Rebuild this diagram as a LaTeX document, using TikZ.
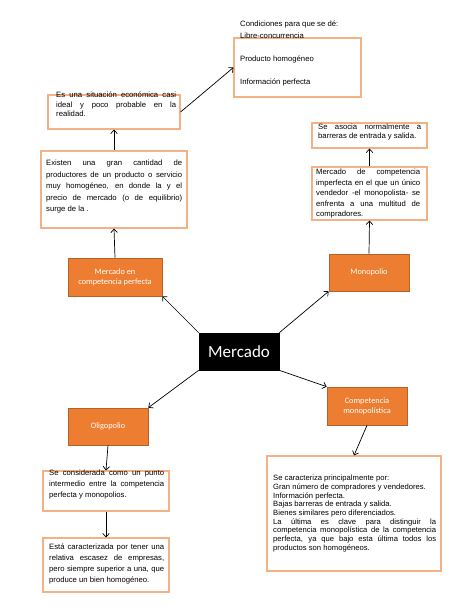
\documentclass[tikz,border=0pt]{standalone}
\usepackage{fontspec}
\usetikzlibrary{arrows.meta}
\setmainfont{Liberation Sans}
\newfontfamily\calibri{Carlito}

\definecolor{naranja}{HTML}{ED7D31}
\definecolor{naranjaborde}{HTML}{B6612A}
\definecolor{bordenota}{HTML}{F4B183}

\tikzset{
  tema/.style={rectangle, fill=naranja, draw=naranjaborde, line width=0.6pt,
    text=white, align=center, inner sep=0pt,
    font=\calibri\fontsize{8.3}{10.3}\selectfont},
  nota/.style={rectangle, draw=bordenota, line width=1.1pt, fill=white, inner sep=0pt},
  texto/.style={anchor=north west, inner sep=0pt, align=justify},
  flecha/.style={-{Straight Barb[length=3.5pt,width=6.5pt]}, line width=0.7pt}
}

\begin{document}
\begin{tikzpicture}[x=1pt, y=-1pt]

    \useasboundingbox (0,0) rectangle (474,613);

    % Centre
    \node[tema, fill=black, draw=black, minimum width=80, minimum height=37,
      font=\calibri\fontsize{17}{20}\selectfont] (mercado) at (239,351.5) {Mercado};

    % Market types
    \node[tema, minimum width=94, minimum height=38] (perfecta) at (115,277) {Mercado en\\competencia perfecta};
    \node[tema, minimum width=80, minimum height=37] (monopolio) at (369,272.5) {Monopolio};
    \node[tema, minimum width=80, minimum height=37] (oligopolio) at (108,426.5) {Oligopolio};
    \node[tema, minimum width=80, minimum height=38] (compmono) at (367,406) {Competencia\\monopolística};

    % Boxes
    \node[nota, minimum width=127, minimum height=59] (condiciones) at (297.5,67.5) {};
    \node[nota, minimum width=132, minimum height=34] (situacion) at (114,112) {};
    \node[nota, minimum width=146, minimum height=77] (existen) at (114,189.5) {};
    \node[nota, minimum width=115, minimum height=25] (asocia) at (369.5,135.5) {};
    \node[nota, minimum width=115, minimum height=53] (imperfecta) at (369.5,193.5) {};
    \node[nota, minimum width=126, minimum height=40] (intermedio) at (106,491) {};
    \node[nota, minimum width=126, minimum height=54] (escasez) at (106,565) {};
    \node[nota, minimum width=174, minimum height=115] (caracteriza) at (354,513.5) {};

    % Box texts
    \node[texto, align=left, font=\fontsize{7.7}{11.5}\selectfont] (t-condiciones) at (240,21)
      {Condiciones para que se dé:\\Libre-concurrencia\\[11.5pt]Producto homogéneo\\[11.5pt]Información perfecta};
    \node[texto, text width=120, font=\fontsize{7.7}{9.2}\selectfont] (t-situacion) at (56,92)
      {Es una situación económica casi\linebreak ideal y poco probable en la\linebreak realidad.};
    \node[texto, text width=136, font=\fontsize{7.7}{11.5}\selectfont] (t-existen) at (46,160)
      {Existen una gran cantidad de\linebreak productores de un producto o servicio\linebreak
       muy homogéneo, en donde la y el\linebreak precio de mercado (o de equilibrio)\linebreak surge de la .};
    \node[texto, text width=103, font=\fontsize{7.7}{9}\selectfont] (t-asocia) at (318,124)
      {Se asocia normalmente a\linebreak barreras de entrada y salida.};
    \node[texto, text width=104, font=\fontsize{7.7}{10.5}\selectfont] (t-imperfecta) at (316,169)
      {Mercado de competencia\linebreak imperfecta en el que un único\linebreak vendedor -el monopolista- se\linebreak
       enfrenta a una multitud de\linebreak compradores.};
    \node[texto, text width=115, font=\fontsize{7.7}{11}\selectfont] (t-intermedio) at (49,470)
      {Se considerada como un punto\linebreak intermedio entre la competencia\linebreak perfecta y monopolios.};
    \node[texto, text width=115, font=\fontsize{7.7}{11}\selectfont] (t-escasez) at (49,544)
      {Está caracterizada por tener una\linebreak relativa escasez de empresas,\linebreak
       pero siempre superior a una, que\linebreak produce un bien homogéneo.};
    \node[texto, text width=163, font=\fontsize{7.65}{8.7}\selectfont] (t-caracteriza) at (273,475)
      {Se caracteriza principalmente por:\\Gran número de compradores y vendedores.\\Información perfecta.\\
       Bajas barreras de entrada y salida.\\Bienes similares pero diferenciados.\\
       La última es clave para distinguir la\linebreak competencia monopolística de la competencia\linebreak
       perfecta, ya que bajo esta última todos los\linebreak productos son homogéneos.};

    % Arrows from the centre
    \draw[flecha] (mercado.north west) -- (perfecta.south east);
    \draw[flecha] (mercado.north east) -- (monopolio.south west);
    \draw[flecha] (mercado.south west) -- (oligopolio.north east);
    \draw[flecha] (mercado.south east) -- (compmono.north west);

    % Arrows to the boxes
    \draw[flecha] (perfecta.north) -- (existen.south);
    \draw[flecha] (existen.north) -- (situacion.south);
    \draw[flecha] (situacion.east) -- (condiciones.west);
    \draw[flecha] (monopolio.north) -- (imperfecta.south);
    \draw[flecha] (imperfecta.north) -- (asocia.south);
    \draw[flecha] (oligopolio.south) -- (intermedio.north);
    \draw[flecha] (intermedio.south) -- (escasez.north);
    \draw[flecha] (compmono.south) -- (caracteriza.north);

\end{tikzpicture}
\end{document}
